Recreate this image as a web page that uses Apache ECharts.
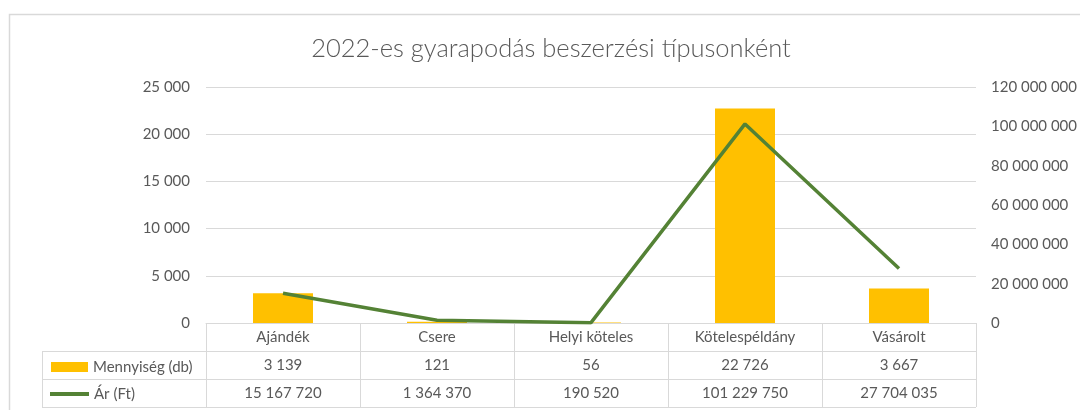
<!DOCTYPE html>
<html>
<head>
<meta charset="utf-8">
<style>
  html, body { margin: 0; padding: 0; background: #fff; }
  #chart { width: 1080px; height: 410px; }
</style>
<script src="https://cdn.jsdelivr.net/npm/echarts@6/dist/echarts.min.js"></script>
</head>
<body>
<div id="chart"></div>
<script>
const categories = ["Ajándék", "Csere", "Helyi köteles", "Kötelespéldány", "Vásárolt"];
const quantity = [3139, 121, 56, 22726, 3667];
const price = [15167720, 1364370, 190520, 101229750, 27704035];
const seriesNames = ["Mennyiség (db)", "Ár (Ft)"];

// ezres tagolás szóközzel
const fmt = (v) => String(v).replace(/\B(?=(\d{3})+(?!\d))/g, " ");

const textColor = "#595959";
const lineColor = "#d9d9d9";
const font = "Lato, 'Open Sans', sans-serif";

const myChart = echarts.init(document.getElementById("chart"));

const legendText = { color: textColor, fontSize: 15, lineHeight: 18 };

myChart.setOption({
  animation: false,
  textStyle: { fontFamily: font },
  title: {
    text: "2022-es gyarapodás beszerzési típusonként",
    left: 546,
    textAlign: "center",
    top: 31,
    textStyle: { color: textColor, fontSize: 25.5, fontWeight: 300, fontFamily: font },
  },
  legend: [
    {
      left: 46,
      top: 353,
      itemWidth: 37,
      itemHeight: 10,
      itemGap: 0,
      selectedMode: false,
      textStyle: legendText,
      data: [{ name: seriesNames[0], icon: "rect" }],
    },
    {
      left: 45,
      top: 380,
      itemWidth: 39,
      itemHeight: 4,
      itemGap: 0,
      selectedMode: false,
      textStyle: legendText,
      data: [{ name: seriesNames[1], icon: "path://M0,0H40V4H0Z" }],
    },
  ],
  grid: {
    left: 206,
    right: 104,
    top: 87,
    bottom: 87,
  },
  xAxis: {
    type: "category",
    data: categories,
    axisTick: { show: false },
    axisLine: { lineStyle: { color: lineColor } },
    axisLabel: {
      color: textColor,
      fontSize: 15,
      margin: 0,
      lineHeight: 28,
      verticalAlign: "top",
      interval: 0,
      formatter: (v, i) => `${v}\n${fmt(quantity[i])}\n${fmt(price[i])}`,
    },
  },
  yAxis: [
    {
      type: "value",
      min: 0,
      max: 25000,
      interval: 5000,
      axisLine: { show: false },
      axisTick: { show: false },
      splitLine: { lineStyle: { color: lineColor } },
      axisLabel: { color: textColor, fontSize: 15, margin: 16, formatter: fmt },
    },
    {
      type: "value",
      min: 0,
      max: 120000000,
      interval: 20000000,
      axisLine: { show: false },
      axisTick: { show: false },
      splitLine: { show: false },
      axisLabel: { color: textColor, fontSize: 15, margin: 15, formatter: fmt },
    },
  ],
  series: [
    {
      name: seriesNames[0],
      type: "bar",
      yAxisIndex: 0,
      barWidth: 60,
      itemStyle: { color: "#FFC000" },
      data: quantity,
    },
    {
      name: seriesNames[1],
      type: "line",
      yAxisIndex: 1,
      symbol: "none",
      z: 3,
      lineStyle: { color: "#548235", width: 3.5 },
      itemStyle: { color: "#548235" },
      data: price,
    },
  ],
});

// adattábla vonalai a tengelyekből számolva
function drawTable() {
  const y0 = myChart.convertToPixel({ yAxisIndex: 0 }, 0);
  const c0 = myChart.convertToPixel({ xAxisIndex: 0 }, 0);
  const c1 = myChart.convertToPixel({ xAxisIndex: 0 }, 1);
  const band = c1 - c0;
  const rowH = 28;
  const leftX = 42;
  const gLeft = c0 - band / 2;
  const gRight = gLeft + band * categories.length;
  const elements = [];
  const seg = (x1, y1, x2, y2) =>
    elements.push({
      type: "line",
      shape: { x1, y1, x2, y2 },
      style: { stroke: lineColor, lineWidth: 1 },
      silent: true,
    });
  for (let r = 1; r <= 3; r++) {
    const y = Math.round(y0 + r * rowH) + 0.5;
    seg(leftX, y, gRight, y);
  }
  for (let i = 0; i <= categories.length; i++) {
    const x = Math.round(gLeft + i * band) + 0.5;
    seg(x, y0, x, y0 + 3 * rowH);
  }
  seg(leftX + 0.5, y0 + rowH, leftX + 0.5, y0 + 3 * rowH);
  // diagram keret
  elements.push({
    type: "rect",
    shape: { x: 9.5, y: 14.5, width: 1200, height: 600 },
    style: { fill: null, stroke: lineColor, lineWidth: 1.5 },
    silent: true,
    z: -1,
  });
  myChart.setOption({ graphic: elements });
}
drawTable();
</script>
</body>
</html>
